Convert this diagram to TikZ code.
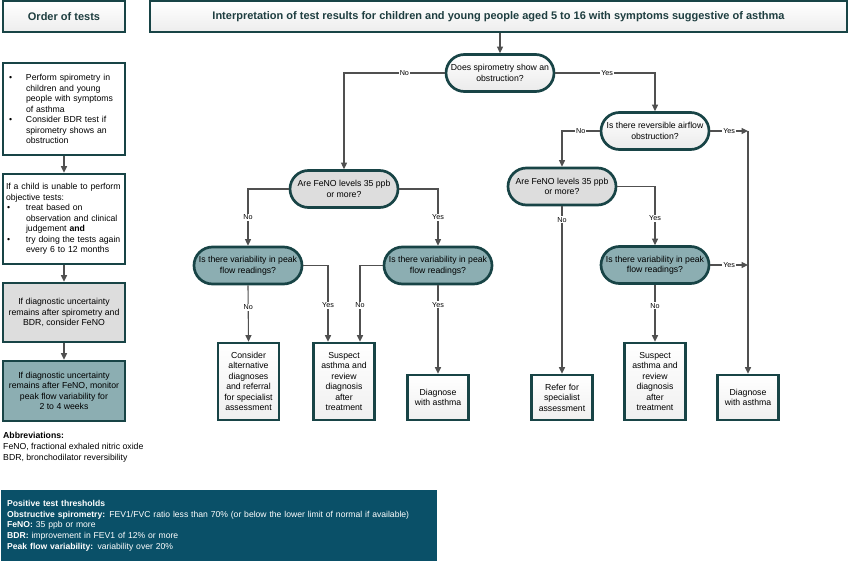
\documentclass[tikz,border=0pt]{standalone}
\usepackage{fontspec}
\setmainfont{Liberation Sans}
\usetikzlibrary{arrows.meta,calc}
\definecolor{bordc}{RGB}{24,68,70}
\definecolor{hdrtxt}{RGB}{30,62,64}
\definecolor{arrc}{RGB}{80,80,80}
\definecolor{lgray}{RGB}{221,221,221}
\definecolor{tealf}{RGB}{140,174,178}
\definecolor{botc}{RGB}{10,80,104}
\begin{document}
\begin{tikzpicture}[x=1pt,y=-1pt,
  font=\fontsize{8.7}{10.5}\selectfont,
  hdr/.style={draw=bordc, line width=1.3pt, top color=white, bottom color=gray!14, minimum height=31pt, text=hdrtxt, font=\fontsize{11}{12}\selectfont\bfseries},
  dec/.style={draw=bordc, line width=2.7pt, rounded corners=18.5pt, minimum width=108pt, minimum height=37pt, align=center, inner sep=1pt},
  decw/.style={dec, top color=white, bottom color=gray!16},
  decg/.style={dec, fill=lgray},
  dect/.style={dec, fill=tealf},
  leaf/.style={draw=bordc, line width=2.6pt, top color=white, bottom color=gray!12, minimum width=61pt, align=center, inner sep=1pt},
  lbox/.style={draw=bordc, line width=2.6pt, minimum width=122pt, inner sep=0pt},
  arr/.style={draw=arrc, line width=1.1pt, -{Triangle[length=6.5pt,width=6pt]}},
  lab/.style={fill=white, inner sep=1pt, font=\fontsize{7.2}{8}\selectfont, text=black}
]
\useasboundingbox (0,0) rectangle (850,561);

% headers
\node[hdr, minimum width=122pt] (order) at (64,16.5) {Order of tests};
\node[hdr, minimum width=697pt] (title) at (498.5,16.5) {Interpretation of test results for children and young people aged 5 to 16 with symptoms suggestive of asthma};

% left column
\node[lbox, minimum height=92pt, fill=white, text width=116pt, align=left] (b1) at (64,109)
 {\makebox[20pt][l]{\hspace{3pt}\textbullet}Perform spirometry in\\
  \hspace*{20pt}children and young\\
  \hspace*{20pt}people with symptoms\\
  \hspace*{20pt}of asthma\\
  \makebox[20pt][l]{\hspace{3pt}\textbullet}Consider BDR test if\\
  \hspace*{20pt}spirometry shows an\\
  \hspace*{20pt}obstruction};
\node[lbox, minimum height=90pt, fill=white, text width=116pt, align=left] (b2) at (64,219)
 {\mbox{If a child is unable to perform}\\
  objective tests:\\
  \makebox[20pt][l]{\hspace{1pt}\textbullet}treat based on\\
  \hspace*{20pt}observation and clinical\\
  \hspace*{20pt}judgement \textbf{and}\\
  \makebox[20pt][l]{\hspace{1pt}\textbullet}\mbox{try doing the tests again}\\
  \hspace*{20pt}every 6 to 12 months};
\node[lbox, minimum height=59pt, fill=lgray, align=center] (b3) at (64,312.5)
 {If diagnostic uncertainty\\remains after spirometry and\\BDR, consider FeNO};
\node[lbox, minimum height=60pt, fill=tealf, align=center] (b4) at (64,391)
 {If diagnostic uncertainty\\remains after FeNO, monitor\\peak flow variability for\\2 to 4 weeks};
\draw[arr] (b1) -- (b2);
\draw[arr] (b2) -- (b3);
\draw[arr] (b3) -- (b4);

\node[anchor=north west, align=left, inner sep=0pt, font=\fontsize{8.7}{11.2}\selectfont] (abbr) at (3,432)
 {\textbf{Abbreviations:}\\FeNO, fractional exhaled nitric oxide\\BDR, bronchodilator reversibility};

\node[fill=botc, minimum width=436pt, minimum height=71pt, anchor=north west, text width=424pt, align=left, text=white, inner sep=6pt, font=\fontsize{8.6}{10.8}\selectfont] (thr) at (1,490)
 {\textbf{Positive test thresholds}\\
  \textbf{Obstructive spirometry:} FEV1/FVC ratio less than 70\% (or below the lower limit of normal if available)\\
  \textbf{FeNO:} 35 ppb or more\\
  \textbf{BDR:} improvement in FEV1 of 12\% or more\\
  \textbf{Peak flow variability:} variability over 20\%};

% decisions
\node[decw] (d1) at (500,73) {Does spirometry show an\\obstruction?};
\node[decw] (d2) at (655,131) {Is there reversible airflow\\obstruction?};
\node[decg] (f1) at (344,189) {Are FeNO levels 35 ppb\\or more?};
\node[decg] (f2) at (562,186.5) {Are FeNO levels 35 ppb\\or more?};
\node[dect] (v1) at (248,265.5) {Is there variability in peak\\flow readings?};
\node[dect] (v2) at (438,265.5) {Is there variability in peak\\flow readings?};
\node[dect] (v3) at (655,265) {Is there variability in peak\\flow readings?};

% outcomes
\node[leaf, minimum height=77pt] (c1) at (248.5,381.5) {Consider\\alternative\\diagnoses\\and referral\\for specialist\\assessment};
\node[leaf, minimum height=77pt] (s1) at (344,381.5) {Suspect\\asthma and\\review\\diagnosis\\after\\treatment};
\node[leaf, minimum height=45pt] (g1) at (438,397.5) {Diagnose\\with asthma};
\node[leaf, minimum height=45pt] (r2) at (562,397.5) {Refer for\\specialist\\assessment};
\node[leaf, minimum height=77pt] (s2) at (655,381.5) {Suspect\\asthma and\\review\\diagnosis\\after\\treatment};
\node[leaf, minimum height=45pt] (g2) at (748,397.5) {Diagnose\\with asthma};

\coordinate (j1) at (748,131);
\coordinate (j2) at (748,265);

% connectors
\draw[arr] (title.south -| d1.north) -- (d1.north);
\draw[arr] (d1.west) -| node[lab, pos=0.2]{No} (f1.north);
\draw[arr] (d1.east) -| node[lab, pos=0.26]{Yes} (d2.north);
\draw[arr] (d2.west) -| node[lab, pos=0.25]{No} (f2.north);
\draw[arr] (d2.east) -- node[lab]{Yes} (j1);
\draw[arr] (j1) -- (g2.north);
\draw[arr] (f1.west) -| node[lab, pos=0.75]{No} (v1.north);
\draw[arr] (f1.east) -| node[lab, pos=0.75]{Yes} (v2.north);
\draw[arr] (f2.south) -- node[lab, pos=0.08]{No} (r2.north);
\draw[arr] (f2.east) -| node[lab, pos=0.77]{Yes} (v3.north);
\draw[arr] (v3.east) -- node[lab]{Yes} (j2);
\draw[arr] (v3.south) -- node[lab, pos=0.37]{No} (s2.north);
\draw[arr] (v1.south) -- node[lab, pos=0.39]{No} (c1.north);
\draw[arr] (v1.east) -| node[lab, pos=0.76]{Yes} ([xshift=-16pt]s1.north);
\draw[arr] (v2.west) -| node[lab, pos=0.76]{No} ([xshift=16pt]s1.north);
\draw[arr] (v2.south) -- node[lab, pos=0.22]{Yes} (g1.north);
\end{tikzpicture}
\end{document}
